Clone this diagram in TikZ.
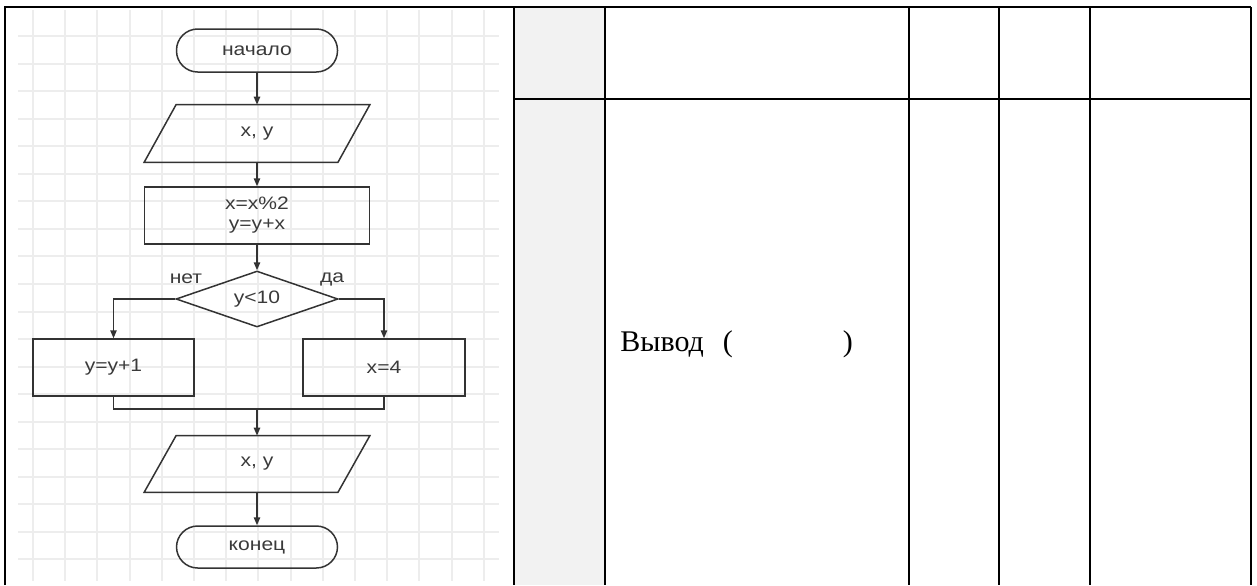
\documentclass[tikz,border=0pt]{standalone}
\usepackage{fontspec}
\setmainfont{Liberation Serif}
\newfontfamily\fcfont[FakeStretch=1.17]{Liberation Sans}
\usetikzlibrary{arrows.meta,shapes.geometric}
\definecolor{fcline}{HTML}{333333}
\definecolor{fctext}{HTML}{3A3A3A}
\definecolor{gridc}{HTML}{EDEDED}
\definecolor{colfill}{HTML}{F2F2F2}
\tikzset{
  x=0.5pt,y=-0.5pt,
  fcbase/.style={inner sep=0pt,font=\fcfont\fontsize{9}{10}\selectfont,text=fctext},
  term/.style={fcbase,draw=fcline,line width=0.75pt,rectangle,rounded corners=10.6pt,minimum width=80.5pt,minimum height=21.5pt},
  procbox/.style={fcbase,draw=fcline,line width=0.75pt,rectangle,align=center},
  iobody/.style={fcbase,rectangle,minimum width=96.5pt,minimum height=28.5pt},
  decbox/.style={fcbase,draw=fcline,line width=0.75pt,diamond,aspect=2.9,minimum width=81pt,minimum height=28pt},
  lbl/.style={fcbase},
  flow/.style={draw=fcline,line width=0.75pt,-{Triangle[length=4pt,width=3.2pt]}},
  plain/.style={draw=fcline,line width=0.75pt},
  tab/.style={draw=black,line width=1pt},
}
\begin{document}
\begin{tikzpicture}
\useasboundingbox (0,0) rectangle (1257,585);
% grid background
\foreach \k in {0,...,14} \draw[gridc,line width=1pt] ({33+32.2*\k},10) -- ({33+32.2*\k},581);
\foreach \k in {0,...,19} \draw[gridc,line width=1pt] (18,{36+27.55*\k}) -- (499,{36+27.55*\k});
% table
\fill[colfill] (514,7) rectangle (605,585);
\draw[tab] (5,585) -- (5,7) -- (1251,7);
\foreach \xx in {514,605,909,999,1090,1251} \draw[tab] (\xx,7) -- (\xx,585);
\draw[tab] (514,99) -- (1251,99);
\node[anchor=base west,font=\fontsize{15}{18}\selectfont,inner sep=0pt] (vyvod) at (620,351) {Вывод\hspace{9.5pt}(\hspace{55pt})};
% flowchart
\node[term] (start) at (257,50.5) {начало};
\node[iobody] (in1) at (257,133.5) {x, y};
\draw[plain] ([xshift=8pt]in1.north west) -- ([xshift=8pt]in1.north east) -- ([xshift=-8pt]in1.south east) -- ([xshift=-8pt]in1.south west) -- cycle;
\node[procbox,minimum width=112.5pt,minimum height=28.5pt] (proc) at (257,215.5) {x=x\%2\\y=y+x};
\node[decbox] (dec) at (257,299) {y<10};
\node[lbl] (lno) at (186,279) {нет};
\node[lbl] (lyes) at (332,279) {да};
\node[procbox,minimum width=80.5pt,minimum height=28.5pt] (L) at (113.5,367.5) {y=y+1};
\node[procbox,minimum width=81pt,minimum height=28.5pt] (R) at (384,367.5) {x=4};
\coordinate (m) at (257,409);
\node[iobody,minimum height=28pt] (out) at (257,464) {x, y};
\draw[plain] ([xshift=8pt]out.north west) -- ([xshift=8pt]out.north east) -- ([xshift=-8pt]out.south east) -- ([xshift=-8pt]out.south west) -- cycle;
\node[term,minimum height=21pt] (end) at (257,547) {конец};
\draw[flow] (start.south) -- (in1.north);
\draw[flow] (in1.south) -- (proc.north);
\draw[flow] (proc.south) -- (dec.north);
\draw[flow] (dec.west) -| (L.north);
\draw[flow] (dec.east) -| (R.north);
\draw[plain] (L.south) |- (m) -| (R.south);
\draw[flow] (m) -- (out.north);
\draw[flow] (out.south) -- (end.north);
\end{tikzpicture}
\end{document}
